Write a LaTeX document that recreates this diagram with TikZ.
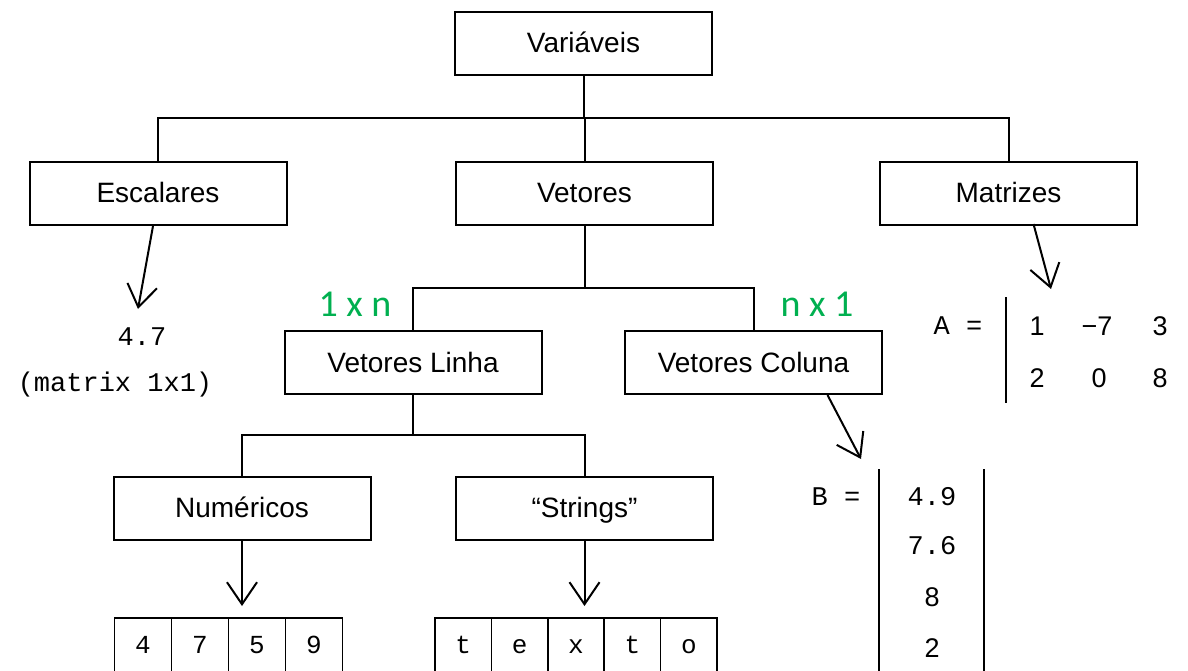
\documentclass[tikz,border=0pt]{standalone}
\usepackage{fontspec}
\setmainfont{Liberation Sans}
\newfontfamily\monof{Liberation Mono}
\newfontfamily\greenf{Carlito}
\usetikzlibrary{arrows.meta}
\definecolor{lblgreen}{RGB}{0,176,80}
\tikzset{
  box/.style={draw, line width=2pt, minimum width=257pt, minimum height=63pt, inner sep=0pt, text height=20pt, text depth=1pt, font=\fontsize{28}{32}\selectfont},
  link/.style={line width=2pt},
  arr/.style={line width=2pt, -{Straight Barb[length=22pt,width=30pt,line width=2pt]}},
  cell/.style={draw, line width=1.5pt, minimum width=57pt, minimum height=58pt, inner sep=0pt, text height=16pt, text depth=4pt, font=\monof\fontsize{26}{30}\selectfont},
  code/.style={inner sep=0pt, font=\monof\fontsize{27}{30}\selectfont},
  num/.style={inner sep=0pt, font=\fontsize{27}{30}\selectfont},
  dim/.style={inner sep=0pt, text=lblgreen, font=\greenf\fontsize{38}{42}\selectfont},
  bar/.style={line width=2.6pt}
}
\begin{document}
\begin{tikzpicture}[x=1pt,y=-1pt]
\useasboundingbox (0,0) rectangle (1188,671);
\clip (0,0) rectangle (1188,671);
\fill[white] (0,0) rectangle (1188,671);
% boxes
\node[box] (var) at (583.5,43.5) {Variáveis};
\node[box] (esc) at (158,193.5) {Escalares};
\node[box] (vet) at (584.5,193.5) {Vetores};
\node[box] (mat) at (1008.5,193.5) {Matrizes};
\node[box] (vl) at (413,362.5) {Vetores Linha};
\node[box] (vc) at (753.5,362.5) {Vetores Coluna};
\node[box] (nu) at (242,508) {Numéricos};
\node[box] (st) at (584.5,508) {“Strings”};
% tree connectors
\coordinate (j1) at (583.5,118);
\draw[link] (var.south) -- (j1);
\draw[link] (esc.north) -- (esc.north |- j1) -- (mat.north |- j1) -- (mat.north);
\draw[link] (vet.north) -- (vet.north |- j1);
\coordinate (j2) at (584.5,288);
\draw[link] (vet.south) -- (j2);
\draw[link] (vl.north) -- (vl.north |- j2) -- (vc.north |- j2) -- (vc.north);
\coordinate (j3) at (413,435);
\draw[link] (vl.south) -- (j3);
\draw[link] (nu.north) -- (nu.north |- j3) -- (st.north |- j3) -- (st.north);
% dimension labels
\node[dim] (d1) at (355,304) {1 x n};
\node[dim] (d2) at (817,304) {n x 1};
% scalar
\coordinate (ea) at (138,309);
\draw[arr] ([xshift=-5pt]esc.south) -- (ea);
\node[code] (s1) at (142,337) {4.7};
\node[code] (s2) at (115,385) {(matrix 1x1)};
% matrix A
\coordinate (ma) at (1051,289);
\draw[arr] ([xshift=25pt,yshift=2pt]mat.south) -- (ma);
\node[code] (aeq) at (958,326) {A =};
\coordinate (ab1) at (1006,297);
\coordinate (ab2) at (1006,403);
\draw[bar] (ab1) -- (ab2);
\node[num] (a11) at (1037,326) {1};
\node[num] (a12) at (1097,326) {−7};
\node[num] (a13) at (1160,326) {3};
\node[num] (a21) at (1037,378) {2};
\node[num] (a22) at (1099,378) {0};
\node[num] (a23) at (1160,378) {8};
% matrix B
\coordinate (mb) at (861,459);
\draw[arr] ([xshift=74pt]vc.south) -- (mb);
\node[code] (beq) at (836,497) {B =};
\coordinate (bl1) at (879,469);
\coordinate (bl2) at (879,680);
\coordinate (br1) at (984,469);
\coordinate (br2) at (984,680);
\draw[bar] (bl1) -- (bl2);
\draw[bar] (br1) -- (br2);
\node[code] (b1) at (932,497) {4.9};
\node[code] (b2) at (932,546) {7.6};
\node[num] (b3) at (932,597) {8};
\node[num] (b4) at (932,648) {2};
% arrays
\coordinate (na) at (242,606);
\draw[arr] (nu.south) -- (na);
\coordinate (sa) at (584.5,606);
\draw[arr] (st.south) -- (sa);
\node[cell] (c1) at (143,647) {4};
\node[cell] (c2) at (200,647) {7};
\node[cell] (c3) at (257,647) {5};
\node[cell] (c4) at (314,647) {9};
\node[cell,minimum width=56.4pt] (t1) at (463.2,647) {t};
\node[cell,minimum width=56.4pt] (t2) at (519.6,647) {e};
\node[cell,minimum width=56.4pt] (t3) at (576,647) {x};
\node[cell,minimum width=56.4pt] (t4) at (632.4,647) {t};
\node[cell,minimum width=56.4pt] (t5) at (688.8,647) {o};
\end{tikzpicture}
\end{document}
